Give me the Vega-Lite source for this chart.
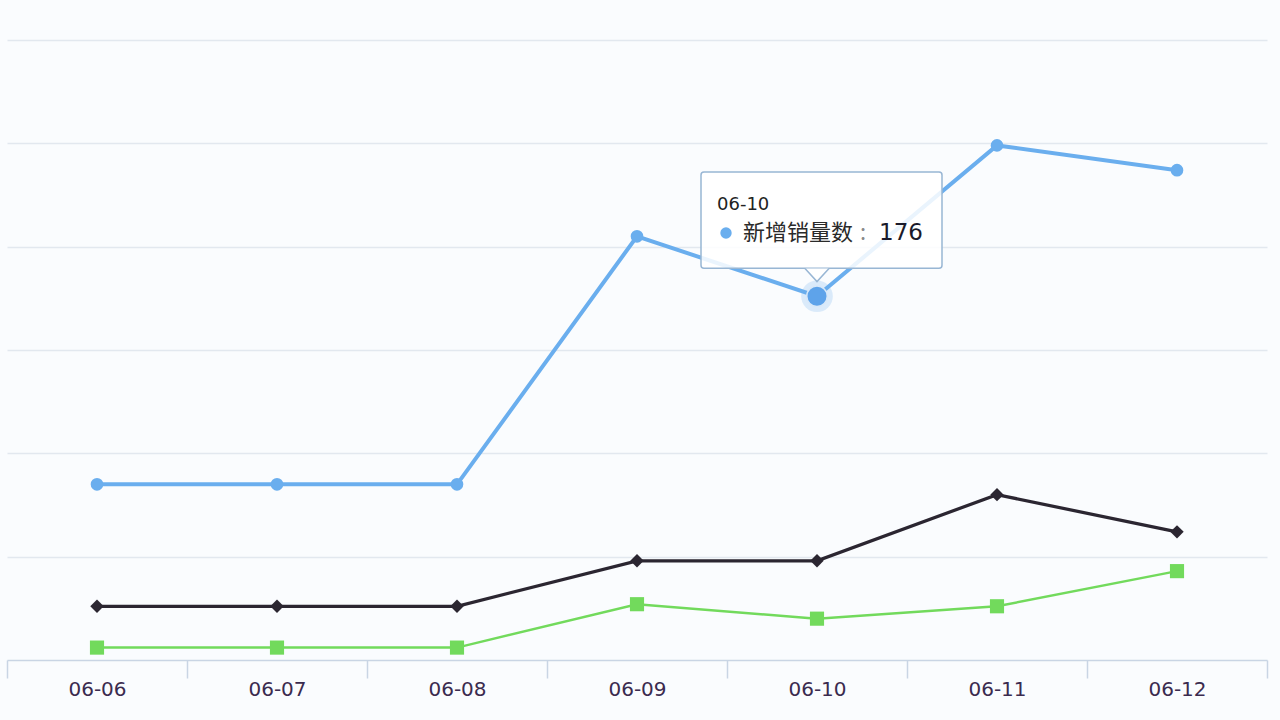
{
  "$schema": "https://vega.github.io/schema/vega-lite/v6.json",
  "width": 1260,
  "height": 620,
  "autosize": {"type": "none"},
  "padding": {"left": 7, "top": 40, "right": 13, "bottom": 60},
  "background": "#fafcfe",
  "config": {
    "view": {"stroke": null},
    "font": "DejaVu Sans"
  },
  "data": {
    "values": [
      {"date": "06-06", "series": "新增销量数", "value": 85},
      {"date": "06-07", "series": "新增销量数", "value": 85},
      {"date": "06-08", "series": "新增销量数", "value": 85},
      {"date": "06-09", "series": "新增销量数", "value": 205},
      {"date": "06-10", "series": "新增销量数", "value": 176},
      {"date": "06-11", "series": "新增销量数", "value": 249},
      {"date": "06-12", "series": "新增销量数", "value": 237},
      {"date": "06-06", "series": "新增订单数", "value": 26},
      {"date": "06-07", "series": "新增订单数", "value": 26},
      {"date": "06-08", "series": "新增订单数", "value": 26},
      {"date": "06-09", "series": "新增订单数", "value": 48},
      {"date": "06-10", "series": "新增订单数", "value": 48},
      {"date": "06-11", "series": "新增订单数", "value": 80},
      {"date": "06-12", "series": "新增订单数", "value": 62},
      {"date": "06-06", "series": "新增客户数", "value": 6},
      {"date": "06-07", "series": "新增客户数", "value": 6},
      {"date": "06-08", "series": "新增客户数", "value": 6},
      {"date": "06-09", "series": "新增客户数", "value": 27},
      {"date": "06-10", "series": "新增客户数", "value": 20},
      {"date": "06-11", "series": "新增客户数", "value": 26},
      {"date": "06-12", "series": "新增客户数", "value": 43}
    ]
  },
  "encoding": {
    "x": {
      "field": "date",
      "type": "ordinal",
      "scale": {"type": "band", "paddingInner": 0, "paddingOuter": 0},
      "axis": {
        "title": null,
        "tickBand": "extent",
        "domainColor": "#c9d5e4",
        "domainWidth": 1.5,
        "tickColor": "#c9d5e4",
        "tickWidth": 1.5,
        "tickSize": 18,
        "labelAngle": 0,
        "labelFont": "DejaVu Sans",
        "labelFontSize": 20,
        "labelColor": "#3b2b4f",
        "labelPadding": 1,
        "grid": false
      }
    },
    "y": {
      "field": "value",
      "type": "quantitative",
      "scale": {"domain": [0, 300], "nice": false, "zero": true},
      "axis": {
        "title": null,
        "labels": false,
        "ticks": false,
        "domain": false,
        "values": [50, 100, 150, 200, 250, 300],
        "grid": true,
        "gridColor": "#e2e8ef",
        "gridWidth": 1.5
      }
    }
  },
  "layer": [
    {
      "mark": {"type": "line", "interpolate": "linear"},
      "encoding": {
        "color": {
          "field": "series",
          "type": "nominal",
          "scale": {"domain": ["新增销量数", "新增订单数", "新增客户数"], "range": ["#6aaeee", "#2b2631", "#72da5c"]},
          "legend": null
        },
        "strokeWidth": {
          "field": "series",
          "type": "nominal",
          "scale": {"domain": ["新增销量数", "新增订单数", "新增客户数"], "range": [4, 2.5, 2.5]},
          "legend": null
        }
      }
    },
    {
      "mark": {"type": "point", "filled": true, "opacity": 1},
      "encoding": {
        "color": {
          "field": "series",
          "type": "nominal",
          "scale": {"domain": ["新增销量数", "新增订单数", "新增客户数"], "range": ["#6aaeee", "#3a3440", "#72e05a"]},
          "legend": null
        },
        "shape": {
          "field": "series",
          "type": "nominal",
          "scale": {"domain": ["新增销量数", "新增订单数", "新增客户数"], "range": ["circle", "diamond", "square"]},
          "legend": null
        },
        "size": {
          "field": "series",
          "type": "nominal",
          "scale": {"domain": ["新增销量数", "新增订单数", "新增客户数"], "range": [160, 200, 220]},
          "legend": null
        }
      }
    },
    {
      "transform": [{"filter": "datum.series == '新增销量数' && datum.date == '06-10'"}],
      "layer": [
        {
          "mark": {"type": "point", "shape": "circle", "filled": true, "size": 1000, "color": "#6aaeee", "opacity": 0.22}
        },
        {
          "mark": {"type": "point", "shape": "circle", "filled": true, "size": 420, "color": "#5ea3ea", "opacity": 1, "stroke": "#d8e8f8", "strokeWidth": 1.5}
        },
        {
          "mark": {"type": "rect", "width": 241, "xOffset": 4.5, "fill": "#ffffff", "fillOpacity": 0.86, "stroke": "#98b6d4", "strokeWidth": 1.5, "cornerRadius": 3},
          "encoding": {
            "y": {"datum": 236.1},
            "y2": {"datum": 189.5}
          }
        },
        {
          "mark": {"type": "point", "shape": "M -1 -0.55 L 0 0.55 L 1 -0.55", "filled": true, "size": 576, "fill": "#ffffff", "opacity": 1, "stroke": "#98b6d4", "strokeWidth": 1.5, "strokeOpacity": 1},
          "encoding": {
            "y": {"datum": 186.3}
          }
        },
        {
          "mark": {"type": "text", "align": "left", "baseline": "middle", "dx": -100, "font": "DejaVu Sans", "fontSize": 18, "color": "#222222"},
          "encoding": {
            "y": {"datum": 220.2},
            "text": {"field": "date"}
          }
        },
        {
          "mark": {"type": "point", "shape": "circle", "filled": true, "size": 130, "color": "#6aaeee", "opacity": 1, "xOffset": -91},
          "encoding": {
            "y": {"datum": 206.6}
          }
        },
        {
          "mark": {"type": "text", "align": "left", "baseline": "middle", "dx": -74, "font": "Noto Sans CJK SC", "fontSize": 22, "color": "#2a2a2a"},
          "encoding": {
            "y": {"datum": 206.6},
            "text": {"field": "series"}
          }
        },
        {
          "mark": {"type": "text", "align": "left", "baseline": "middle", "dx": 43, "font": "Noto Sans CJK SC", "fontSize": 22, "color": "#8a8a8a", "text": ":"},
          "encoding": {
            "y": {"datum": 206.6}
          }
        },
        {
          "mark": {"type": "text", "align": "left", "baseline": "middle", "dx": 62, "font": "DejaVu Sans", "fontSize": 23, "color": "#1a1a2a"},
          "encoding": {
            "y": {"datum": 206.6},
            "text": {"field": "value", "type": "quantitative"}
          }
        }
      ]
    }
  ]
}
